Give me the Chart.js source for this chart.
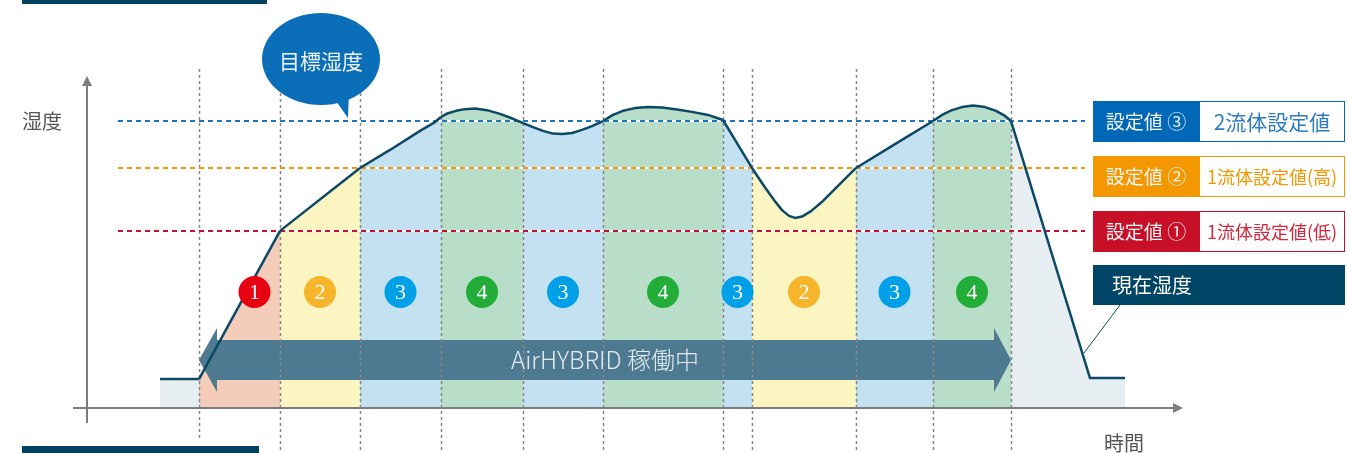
<!DOCTYPE html>
<html lang="ja">
<head>
<meta charset="utf-8">
<title>AirHYBRID 湿度制御</title>
<script src="https://cdn.jsdelivr.net/npm/chart.js@4.4.1/dist/chart.umd.min.js"></script>
<style>
  html, body { margin: 0; padding: 0; background: #fff; }
  #wrap { position: relative; width: 1347px; height: 453px; }
</style>
</head>
<body>
<div id="wrap"><canvas id="chart"></canvas></div>
<script>
// time axis (arbitrary units) and current humidity
const times = [7.3, 11.2, 19.3, 27.3, 30.3, 33.3, 34.8, 35.4, 36.1, 36.9, 37.8, 38.8, 40.0, 41.3,
  42.4, 43.6, 44.6, 45.6, 46.6, 47.5, 48.5, 49.5, 50.5, 51.6, 52.6, 53.6, 54.8, 56.1, 57.5, 59.0,
  60.5, 62.1, 63.6, 65.0, 66.5, 67.7, 68.7, 69.5, 70.2, 70.8, 71.5, 72.4, 73.6, 75.2, 76.9, 80.8,
  84.6, 85.5, 86.5, 87.5, 88.6, 89.8, 90.9, 91.8, 92.4, 100.3, 103.8];
const humidity = [8.5, 8.5, 52.1, 70.6, 75.9, 81.5, 84.1, 85.6, 86.7, 87.4, 87.9, 88.1, 87.6, 86.5,
  85.3, 83.8, 82.6, 81.5, 80.7, 80.6, 80.9, 81.8, 82.9, 84.4, 86.2, 87.4, 88.2, 88.5, 88.4, 87.8,
  87.1, 86.2, 84.7, 77.9, 70.6, 65.3, 61.2, 58.2, 56.5, 55.9, 56.3, 57.9, 60.9, 65.6, 70.6, 77.6,
  84.4, 86.2, 87.6, 88.5, 89.0, 88.5, 87.4, 85.9, 84.4, 8.8, 8.8];

// set values ① ② ③
const setpoints = [52.1, 70.6, 84.4];
const setNames = ['設定値 ①', '設定値 ②', '設定値 ③'];
const setModes = ['1流体設定値(低)', '1流体設定値(高)', '2流体設定値'];

// operating zones: start time of each zone and the mode number (0 = stopped)
const zoneEdges = [7.3, 11.2, 19.3, 27.3, 35.4, 43.6, 51.6, 63.6, 66.5, 76.9, 84.6, 92.4, 103.8];
const zoneModes = [0, 1, 2, 3, 4, 3, 4, 3, 2, 3, 4, 0];

const FONT = '"Noto Sans CJK JP", "Noto Sans", sans-serif';
const modeFill = ['#e7eef2', '#f3cdb9', '#faf5c1', '#c3e1f1', '#b8dec9'];
const modeBadge = [null, '#e60012', '#f7b52c', '#00a0e9', '#22ac38'];
const setColors = ['#c8102e', '#f39800', '#1f74bd'];
const setBoxColors = ['#c70f27', '#f39800', '#0068b7'];
const setTextColors = ['#d3263f', '#f39800', '#2f7cc0'];
const navy = '#0b4966';

function zoneIndex(t) {
  for (let i = zoneModes.length - 1; i >= 0; i--) {
    if (t >= zoneEdges[i] - 0.01) return i;
  }
  return 0;
}

const overlay = {
  id: 'overlay',
  // runs after the filler has painted the zones, before the curve is stroked
  beforeDatasetDraw(chart) {
    const { ctx, chartArea: a, scales: { x, y } } = chart;
    ctx.save();

    // AirHYBRID running arrow
    const xl = x.getPixelForValue(zoneEdges[1]);
    const xr = x.getPixelForValue(zoneEdges[zoneEdges.length - 2]);
    const yc = y.getPixelForValue(14.1);
    ctx.fillStyle = '#4d7a91';
    ctx.beginPath();
    ctx.moveTo(xl, yc);
    ctx.lineTo(xl + 18, yc - 32);
    ctx.lineTo(xl + 18, yc - 20);
    ctx.lineTo(xr - 17, yc - 20);
    ctx.lineTo(xr - 17, yc - 32);
    ctx.lineTo(xr, yc);
    ctx.lineTo(xr - 17, yc + 32);
    ctx.lineTo(xr - 17, yc + 20);
    ctx.lineTo(xl + 18, yc + 20);
    ctx.lineTo(xl + 18, yc + 32);
    ctx.closePath();
    ctx.fill();

    // zone borders
    ctx.strokeStyle = '#878787';
    ctx.lineWidth = 1.5;
    ctx.setLineDash([3, 3]);
    for (let i = 1; i < zoneEdges.length - 1; i++) {
      const px = Math.round(x.getPixelForValue(zoneEdges[i])) + 0.5;
      ctx.beginPath();
      ctx.moveTo(px, a.top + 1);
      ctx.lineTo(px, i === 1 ? a.bottom + 30 : chart.height);
      ctx.stroke();
    }

    // set value lines
    const x0 = x.getPixelForValue(3.1), x1 = x.getPixelForValue(99.8);
    setpoints.forEach((v, i) => {
      const py = Math.round(y.getPixelForValue(v));
      ctx.setLineDash([]);
      ctx.strokeStyle = '#fff';
      ctx.lineWidth = 2;
      ctx.beginPath(); ctx.moveTo(x0, py); ctx.lineTo(x1, py); ctx.stroke();
      ctx.setLineDash([5, 4]);
      ctx.strokeStyle = setColors[i];
      ctx.beginPath(); ctx.moveTo(x0, py); ctx.lineTo(x1, py); ctx.stroke();
    });
    ctx.restore();
  },

  afterDraw(chart) {
    const { ctx, chartArea: a, scales: { x, y } } = chart;
    ctx.save();

    // axes with arrow heads
    ctx.strokeStyle = '#7d7d7d';
    ctx.fillStyle = '#7d7d7d';
    ctx.lineWidth = 2;
    ctx.beginPath();
    ctx.moveTo(a.left - 14, a.bottom); ctx.lineTo(a.right - 8, a.bottom);
    ctx.moveTo(a.left, a.bottom + 15); ctx.lineTo(a.left, a.top + 16);
    ctx.stroke();
    ctx.beginPath();
    ctx.moveTo(a.right, a.bottom); ctx.lineTo(a.right - 10, a.bottom - 5); ctx.lineTo(a.right - 10, a.bottom + 5);
    ctx.closePath(); ctx.fill();
    ctx.beginPath();
    ctx.moveTo(a.left, a.top + 8); ctx.lineTo(a.left - 5, a.top + 18); ctx.lineTo(a.left + 5, a.top + 18);
    ctx.closePath(); ctx.fill();

    ctx.font = '20px ' + FONT;
    ctx.fillStyle = '#555';
    ctx.textBaseline = 'middle';
    ctx.textAlign = 'left';
    ctx.fillText('湿度', 22, y.getPixelForValue(setpoints[2]));
    ctx.fillText('時間', 1104, 443);

    // mode badges
    for (let i = 1; i < zoneModes.length - 1; i++) {
      const m = zoneModes[i];
      let mid = (zoneEdges[i] + zoneEdges[i + 1]) / 2;
      if (m === 1) mid += 1.5; // keep clear of the rising curve
      const cx = x.getPixelForValue(mid), cy = y.getPixelForValue(34.1);
      ctx.fillStyle = modeBadge[m];
      ctx.beginPath(); ctx.arc(cx, cy, 16, 0, Math.PI * 2); ctx.fill();
      ctx.fillStyle = '#fff';
      ctx.font = '22px "Liberation Serif", serif';
      ctx.textAlign = 'center';
      ctx.fillText(String(m), cx, cy + 1);
    }

    // arrow caption
    const midRun = (x.getPixelForValue(zoneEdges[1]) + x.getPixelForValue(zoneEdges[zoneEdges.length - 2])) / 2;
    ctx.font = '300 24px ' + FONT;
    ctx.fillStyle = '#e2ebf0';
    ctx.textAlign = 'center';
    ctx.fillText('AirHYBRID 稼働中', midRun, y.getPixelForValue(14.1));

    // set value labels on the right
    const boxTops = [211, 156, 101];
    setpoints.forEach((v, i) => {
      const top = boxTops[i];
      ctx.fillStyle = setBoxColors[i];
      ctx.fillRect(1093, top, 106, 41);
      ctx.fillStyle = '#fff';
      ctx.fillRect(1199, top, 147, 41);
      ctx.strokeStyle = setBoxColors[i];
      ctx.lineWidth = 1;
      ctx.strokeRect(1199.5, top + 0.5, 145, 40);
      ctx.font = '19px ' + FONT;
      ctx.fillStyle = '#f4f4f4';
      ctx.textAlign = 'center';
      ctx.fillText(setNames[i], 1146, top + 21);
      ctx.font = (i === 2 ? '21px ' : '18px ') + FONT;
      ctx.fillStyle = setTextColors[i];
      ctx.fillText(setModes[i], 1272, top + 21, 139);
    });

    // current humidity label and leader
    ctx.fillStyle = '#004565';
    ctx.fillRect(1093, 265, 252, 40);
    ctx.fillStyle = '#fff';
    ctx.font = '20px ' + FONT;
    ctx.textAlign = 'left';
    ctx.fillText('現在湿度', 1112, 285);
    ctx.strokeStyle = navy;
    ctx.lineWidth = 1;
    ctx.beginPath(); ctx.moveTo(1120, 305); ctx.lineTo(1084, 353); ctx.stroke();

    // target humidity speech bubble, tail pointing at set value ③
    const tipX = x.getPixelForValue(26.1), tipY = y.getPixelForValue(setpoints[2]) - 3;
    const bx = tipX - 27, by = tipY - 59;
    ctx.fillStyle = '#0a6fb8';
    ctx.beginPath(); ctx.ellipse(bx, by, 59, 46, 0, 0, Math.PI * 2); ctx.fill();
    ctx.beginPath();
    ctx.moveTo(tipX - 14, tipY - 20); ctx.lineTo(tipX, tipY); ctx.lineTo(tipX + 1, tipY - 28);
    ctx.closePath(); ctx.fill();
    ctx.fillStyle = '#eef4fa';
    ctx.font = '21px ' + FONT;
    ctx.textAlign = 'center';
    ctx.fillText('目標湿度', bx, by + 2);

    // decorative rules
    ctx.fillStyle = '#00425f';
    ctx.fillRect(22, 0, 245, 4);
    ctx.fillRect(22, 446, 237, 7);
    ctx.restore();
  }
};

new Chart(document.getElementById('chart'), {
  type: 'line',
  data: {
    datasets: [{
      label: '現在湿度',
      data: times.map((t, i) => ({ x: t, y: humidity[i] })),
      borderColor: navy,
      borderWidth: 2.5,
      borderJoinStyle: 'round',
      backgroundColor: modeFill[0],
      fill: 'origin',
      tension: 0,
      pointRadius: 0,
      segment: {
        backgroundColor: c => modeFill[zoneModes[zoneIndex(times[c.p0DataIndex])]]
      }
    }]
  },
  options: {
    responsive: true,
    maintainAspectRatio: false,
    animation: false,
    layout: { padding: { left: 87, right: 164, top: 68, bottom: 45 } },
    scales: {
      x: { type: 'linear', min: 0, max: 109.6, display: false },
      y: { min: 0, max: 100, display: false }
    },
    plugins: { legend: { display: false }, tooltip: { enabled: false } }
  },
  plugins: [overlay]
});
</script>
</body>
</html>
